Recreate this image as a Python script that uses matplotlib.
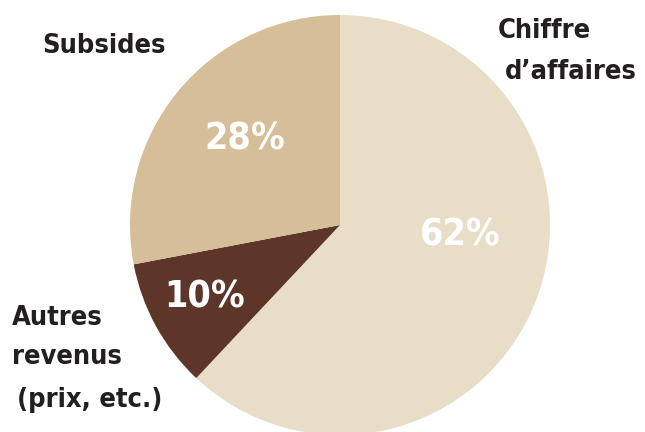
import matplotlib.pyplot as plt

shares = [62, 10, 28]
pct_labels = ['62%', '10%', '28%']
colors = ['#E8DDC7', '#5E3629', '#D5BE98']

FONT = ['DejaVu Sans']
DARK = '#231F20'

fig = plt.figure(figsize=(6.45, 4.32), dpi=100)
# pie centre at (340, 225) px, radius 210 px
ax = fig.add_axes([130 / 645, (432 - 435) / 432, 420 / 645, 420 / 432])
ax.pie(shares, colors=colors, startangle=90, counterclock=False, radius=1,
       wedgeprops=dict(linewidth=0))
ax.set_xlim(-1, 1)
ax.set_ylim(-1, 1)
ax.axis('off')
for p in ax.patches:
    p.set_clip_on(False)


def px(x, y):
    return (x - 340) / 210, (225 - y) / 210


# percentages inside the wedges
pct_pos = [(460, 236), (205, 298), (245, 139)]
for (x, y), t in zip(pct_pos, pct_labels):
    ax.text(*px(x, y), t, color='white', fontsize=27, fontweight='bold',
            fontstretch='condensed', ha='center', va='center', family=FONT)

# category labels
lab = dict(color=DARK, fontsize=19.5, fontweight='bold', fontstretch='condensed',
           family=FONT, va='center')
ax.text(*px(42, 46), 'Subsides', ha='left', **lab)
ax.text(*px(498, 31), 'Chiffre', ha='left', **lab)
ax.text(*px(637, 72), "d’affaires", ha='right', **lab)
ax.text(*px(12, 318), 'Autres', ha='left', **lab)
ax.text(*px(12, 357), 'revenus', ha='left', **lab)
ax.text(*px(17, 400), '(prix, etc.)', ha='left', **lab)

fig.savefig('out.png', dpi=100)
